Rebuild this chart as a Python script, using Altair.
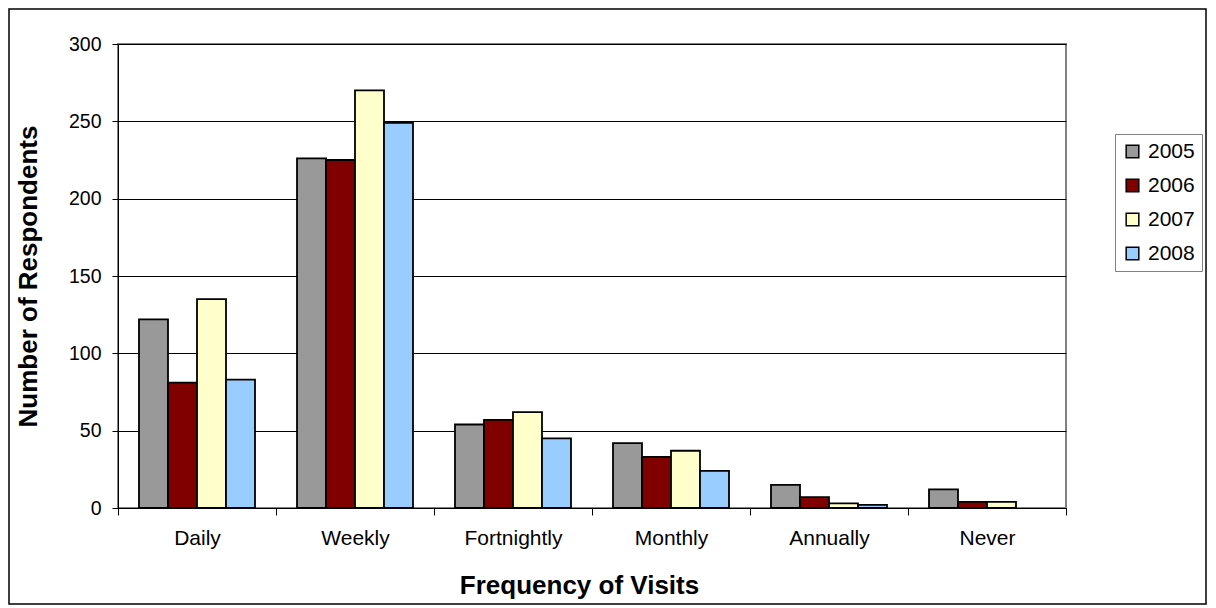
import altair as alt
import pandas as pd

categories = ["Daily", "Weekly", "Fortnightly", "Monthly", "Annually", "Never"]
years = ["2005", "2006", "2007", "2008"]
v2005 = [122, 226, 54, 42, 15, 12]
v2006 = [81, 225, 57, 33, 7, 4]
v2007 = [135, 270, 62, 37, 3, 4]
v2008 = [83, 249, 45, 24, 2, 0]
colors = ["#999999", "#800000", "#FFFFCC", "#99CCFF"]
y_ticks = [0, 50, 100, 150, 200, 250, 300]

rows = []
for yr, vals in zip(years, [v2005, v2006, v2007, v2008]):
    for c, v in zip(categories, vals):
        rows.append({"cat": c, "year": yr, "value": v})
df = pd.DataFrame(rows)

W, H = 948, 464
FONT = "Liberation Sans"

bars = alt.Chart(df).mark_bar(stroke="black", strokeWidth=1.8).encode(
    x=alt.X("cat:N", sort=categories,
            scale=alt.Scale(paddingInner=0, paddingOuter=0),
            axis=alt.Axis(title="Frequency of Visits", labelAngle=0, tickBand="extent",
                          domainColor="black", tickColor="black", tickSize=7,
                          labelFontSize=21, labelPadding=12, labelColor="black",
                          titleFontSize=26, titleFontWeight="bold", titleColor="black",
                          titleX=461, titleY=77, titleBaseline="middle", titleAnchor="middle",
                          grid=False)),
    xOffset=alt.XOffset("year:N", sort=years,
                        scale=alt.Scale(paddingInner=0, paddingOuter=0.724)),
    y=alt.Y("value:Q", scale=alt.Scale(domain=[0, 300], nice=False),
            axis=alt.Axis(title="Number of Respondents", values=y_ticks,
                          domainColor="black", tickColor="black", tickSize=6,
                          labelFontSize=19.5, labelPadding=11, labelColor="black",
                          titleFontSize=26, titleFontWeight="bold", titleColor="black",
                          titleX=-90, titleY=H / 2, titleAngle=270,
                          titleBaseline="middle", titleAnchor="middle",
                          gridColor="black", gridWidth=1)),
    color=alt.Color("year:N", sort=years,
                    scale=alt.Scale(domain=years, range=colors),
                    legend=alt.Legend(title=None, orient="none", legendX=997, legendY=90,
                                      symbolType="square", symbolSize=160,
                                      symbolStrokeColor="black", symbolStrokeWidth=1.5,
                                      labelFontSize=21, labelColor="black",
                                      rowPadding=12, padding=7,
                                      strokeColor="#808080", labelOffset=5)),
).transform_filter("datum.value > 0")

frame = alt.Chart(alt.Data(values=[{"a": 1}])).mark_rect(
    fill=None, stroke="black", strokeWidth=1.5, clip=False
).encode(
    x=alt.value(-109), x2=alt.value(W + 140),
    y=alt.value(-35), y2=alt.value(H + 96),
)

chart = alt.layer(bars, frame).properties(
    width=W, height=H,
    autosize=alt.AutoSizeParams(type="none"),
    padding={"left": 110, "top": 36, "right": 142, "bottom": 100},
).configure(font=FONT).configure_view(stroke="#808080", strokeWidth=2)

chart.save("out.html", embed_options={"renderer": "svg", "actions": False})
